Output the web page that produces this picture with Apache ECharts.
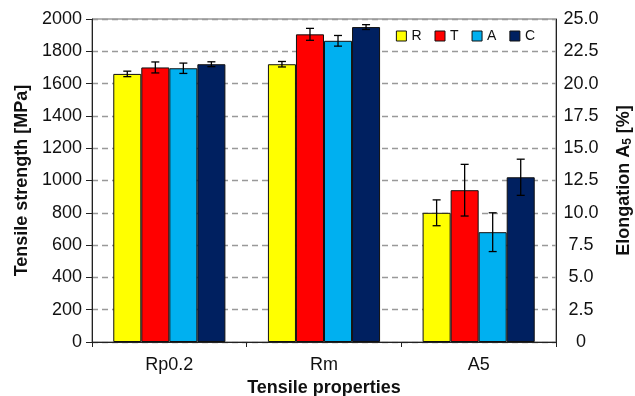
<!DOCTYPE html>
<html>
<head>
<meta charset="utf-8">
<script src="https://cdn.jsdelivr.net/npm/echarts@6/dist/echarts.min.js"></script>
<style>html,body{margin:0;padding:0;background:#fff}#c{width:635px;height:396px}</style>
</head>
<body>
<div id="c"></div>
<script>
const categories = ['Rp0.2', 'Rm', 'A5'];
const seriesNames = ['R', 'T', 'A', 'C'];
const seriesColors = ['#FFFF00', '#FF0000', '#00B0F0', '#002060'];
// Strength values (MPa) for Rp0.2 and Rm, per series
const strengthR = [1660, 1720];
const strengthT = [1700, 1905];
const strengthA = [1695, 1865];
const strengthC = [1720, 1950];
const strengthErrR = [17, 17];
const strengthErrT = [34, 37];
const strengthErrA = [32, 33];
const strengthErrC = [15, 15];
// Elongation A5 (%) per series
const elongation = [10.0, 11.75, 8.5, 12.75];
const elongationErr = [1.0, 2.0, 1.5, 1.4];
const leftTicks = [0, 200, 400, 600, 800, 1000, 1200, 1400, 1600, 1800, 2000];
const rightTicks = [0, 2.5, 5, 7.5, 10, 12.5, 15, 17.5, 20, 22.5, 25];

const strengthVals = [strengthR, strengthT, strengthA, strengthC];
const strengthErrs = [strengthErrR, strengthErrT, strengthErrA, strengthErrC];
const GAP = 0.275;
const font = 'Liberation Sans, Arial, sans-serif';

function errRender(i) {
  return function (params, api) {
    const cat = api.value(0), v = api.value(1), e = api.value(2);
    const band = api.size([1, 0])[0];
    const bw = band * (1 - GAP) / 4;
    const c = api.coord([cat, v]);
    const x = c[0] + (i - 1.5) * bw;
    const top = api.coord([cat, v + e])[1];
    const bot = api.coord([cat, v - e])[1];
    const cap = 4;
    const st = { stroke: '#000', lineWidth: 1.3 };
    return {
      type: 'group',
      children: [
        { type: 'line', shape: { x1: x, y1: top, x2: x, y2: bot }, style: st },
        { type: 'line', shape: { x1: x - cap, y1: top, x2: x + cap, y2: top }, style: st },
        { type: 'line', shape: { x1: x - cap, y1: bot, x2: x + cap, y2: bot }, style: st }
      ]
    };
  };
}

const series = [];
seriesNames.forEach((n, i) => {
  series.push({
    name: n, type: 'bar', xAxisIndex: 0, yAxisIndex: 0,
    barGap: '0%', barCategoryGap: (GAP * 100) + '%',
    data: [strengthVals[i][0], strengthVals[i][1], '-'],
    itemStyle: { color: seriesColors[i], borderColor: '#111', borderWidth: 1 }
  });
});
seriesNames.forEach((n, i) => {
  series.push({
    name: n, type: 'bar', xAxisIndex: 1, yAxisIndex: 1,
    barGap: '0%', barCategoryGap: (GAP * 100) + '%',
    data: ['-', '-', elongation[i]],
    itemStyle: { color: seriesColors[i], borderColor: '#111', borderWidth: 1 }
  });
});
seriesNames.forEach((n, i) => {
  series.push({
    type: 'custom', xAxisIndex: 0, yAxisIndex: 0, z: 10,
    renderItem: errRender(i), encode: { x: 0, y: 1 },
    data: [[0, strengthVals[i][0], strengthErrs[i][0]], [1, strengthVals[i][1], strengthErrs[i][1]]]
  });
  series.push({
    type: 'custom', xAxisIndex: 1, yAxisIndex: 1, z: 10,
    renderItem: errRender(i), encode: { x: 0, y: 1 },
    data: [[2, elongation[i], elongationErr[i]]]
  });
});

const chart = echarts.init(document.getElementById('c'));
chart.setOption({
  animation: false,
  textStyle: { fontFamily: font },
  grid: { left: 92, right: 79, top: 19, bottom: 54, show: true, borderColor: '#666', borderWidth: 1, outerBoundsMode: 'none', containLabel: false },
  legend: {
    data: seriesNames, right: 95, top: 24, icon: 'rect', itemWidth: 10, itemHeight: 10, itemGap: 13,
    textStyle: { fontSize: 14, color: '#111', fontFamily: font },
    itemStyle: { borderColor: '#111', borderWidth: 1 }
  },
  xAxis: [
    {
      type: 'category', data: categories, position: 'bottom',
      name: 'Tensile properties', nameLocation: 'middle', nameGap: 37,
      nameTextStyle: { fontSize: 18, fontWeight: 'bold', color: '#111', fontFamily: font },
      axisLine: { lineStyle: { color: '#222', width: 1 } },
      axisTick: { show: true, length: 5, lineStyle: { color: '#222' } },
      axisLabel: { fontSize: 18, color: '#111', margin: 14 }
    },
    { type: 'category', data: categories, show: false }
  ],
  yAxis: [
    {
      type: 'value', min: 0, max: 2000, interval: 200,
      name: 'Tensile strength [MPa]', nameLocation: 'middle', nameGap: 61, nameRotate: 90,
      nameTextStyle: { fontSize: 18, fontWeight: 'bold', color: '#111', fontFamily: font },
      axisLine: { show: true, lineStyle: { color: '#222' } },
      axisTick: { show: true, length: 6, lineStyle: { color: '#222' } },
      axisLabel: { fontSize: 18, color: '#111', margin: 10, formatter: v => String(v) },
      splitLine: { show: true, lineStyle: { color: '#999', type: [6, 4], width: 1.3 } }
    },
    {
      type: 'value', min: 0, max: 25, interval: 2.5, position: 'right',
      name: '{a|Elongation A}{s|5}{a| [%]}', nameLocation: 'middle', nameGap: 58, nameRotate: 90,
      nameTextStyle: {
        rich: {
          a: { fontSize: 18, fontWeight: 'bold', color: '#111', fontFamily: font },
          s: { fontSize: 12, fontWeight: 'bold', color: '#111', fontFamily: font, verticalAlign: 'bottom', padding: [8, 0, 0, 0] }
        }
      },
      axisLine: { show: true, lineStyle: { color: '#222' } },
      axisTick: { show: false },
      axisLabel: {
        fontSize: 18, color: '#111', margin: 25, align: 'center',
        formatter: v => v === 0 ? '0' : v.toFixed(1)
      },
      splitLine: { show: false }
    }
  ],
  series: series
});
</script>
</body>
</html>
